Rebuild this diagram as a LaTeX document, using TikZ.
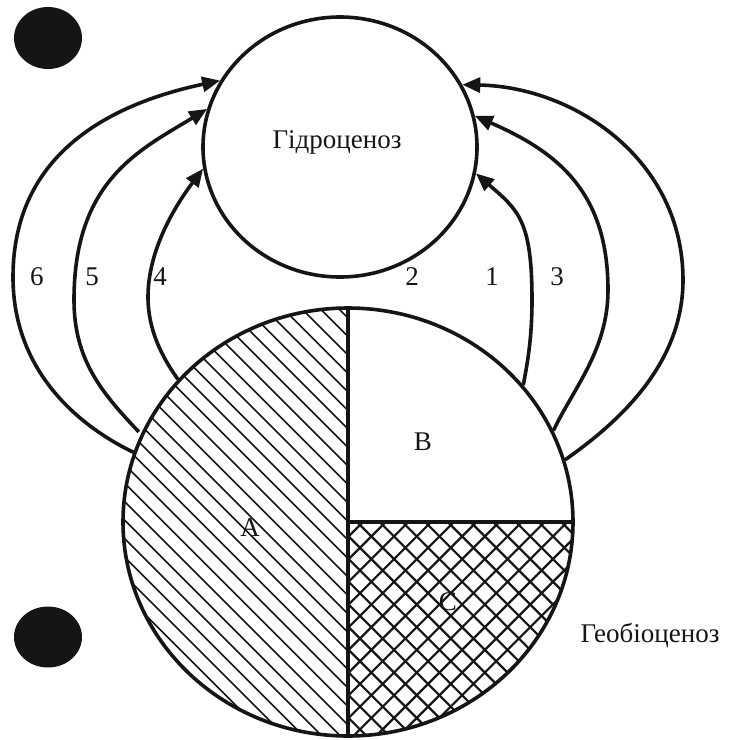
\documentclass[tikz,border=0pt]{standalone}
\usepackage{fontspec}
\setmainfont{Liberation Serif}
\usetikzlibrary{shapes.geometric,arrows.meta}
\definecolor{ink}{HTML}{151515}
\begin{document}
\begin{tikzpicture}[x=1pt,y=1pt,
  every node/.style={text=ink},
  txt/.style={font=\fontsize{27}{32}\selectfont, inner sep=0pt},
  ring/.style={draw=ink, line width=3.6pt, ellipse, inner sep=0pt},
  blob/.style={fill=ink, ellipse, inner sep=0pt},
  arr/.style={draw=ink, line width=3.6pt, -{Triangle[length=18pt,width=15pt]}},
  hatchA/.style={draw=ink, line width=1.6pt},
  hatchC/.style={draw=ink, line width=2.2pt},
  divider/.style={draw=ink, line width=3.6pt}
]
\useasboundingbox (0,0) rectangle (731,-740);

% hatching of A (left half)
\begin{scope}
  \clip (348,-308) arc[start angle=90,end angle=270,x radius=225pt,y radius=214pt] -- cycle;
  \foreach \k in {-36,...,1}{
    \pgfmathsetmacro{\c}{30+18.5*\k}
    \draw[hatchA] (\c+300,-300) -- (\c+760,-760);
  }
\end{scope}

% cross hatching of C (lower right quarter)
\begin{scope}
  \clip (348,-522) -- (573,-522) arc[start angle=0,end angle=-90,x radius=225pt,y radius=214pt] -- cycle;
  \foreach \k in {-11,...,11}{
    \pgfmathsetmacro{\c}{-165+22.7*\k}
    \draw[hatchC] (\c+500,-500) -- (\c+760,-760);
  }
  \foreach \k in {-2,...,20}{
    \pgfmathsetmacro{\c}{885+22.7*\k}
    \draw[hatchC] (\c-500,-500) -- (\c-760,-760);
  }
\end{scope}

% circles
\node[ring, minimum width=450pt, minimum height=428pt] (geo) at (348,-522) {};
\node[ring, minimum width=274pt, minimum height=260pt] (hyd) at (340,-147) {};
\draw[divider] (geo.north) -- (geo.south);
\draw[divider] (geo.center) -- (geo.east);

% black dots
\node[blob, minimum width=68pt, minimum height=62pt] (dotA) at (48,-38) {};
\node[blob, minimum width=68pt, minimum height=61pt] (dotB) at (48,-637) {};

% texts
\node[txt] (hydlbl) at (337,-142) {Гідроценоз};
\node[txt] (geolbl) at (650,-635) {Геобіоценоз};
\node[txt] (lA) at (250,-528) {A};
\node[txt] (lB) at (423,-442) {B};
\node[txt] (lC) at (448,-602) {C};
\node[txt] (n6) at (37,-277) {6};
\node[txt] (n5) at (92,-277) {5};
\node[txt] (n4) at (160,-277) {4};
\node[txt] (n2) at (412,-277) {2};
\node[txt] (n1) at (492,-277) {1};
\node[txt] (n3) at (557,-277) {3};

% connectors
\draw[arr] (geo.162.9) .. controls (73,-423) and (13,-367) .. (13,-277)
  .. controls (13,-157) and (105,-105) .. (hyd.151.8);
\draw[arr, shorten <=3pt] (geo.157.1) .. controls (102,-393) and (74,-360) .. (74,-300)
  .. controls (74,-180) and (140,-150) .. (hyd.164.3);
\draw[arr] (geo.140.9) .. controls (162,-357) and (148,-330) .. (148,-297)
  .. controls (148,-250) and (175,-206) .. (hyd.189.7);
\draw[arr] (geo.38.6) .. controls (527,-365) and (532,-340) .. (532,-300)
  .. controls (532,-220) and (518,-210) .. (hyd.-11.9);
\draw[arr] (geo.24.7) .. controls (573,-389) and (608,-350) .. (608,-290)
  .. controls (608,-190) and (555,-151) .. (hyd.13.3);
\draw[arr] (geo.16.4) .. controls (625,-418) and (683,-360) .. (683,-280)
  .. controls (683,-160) and (575,-87) .. (hyd.27.5);
\end{tikzpicture}
\end{document}
